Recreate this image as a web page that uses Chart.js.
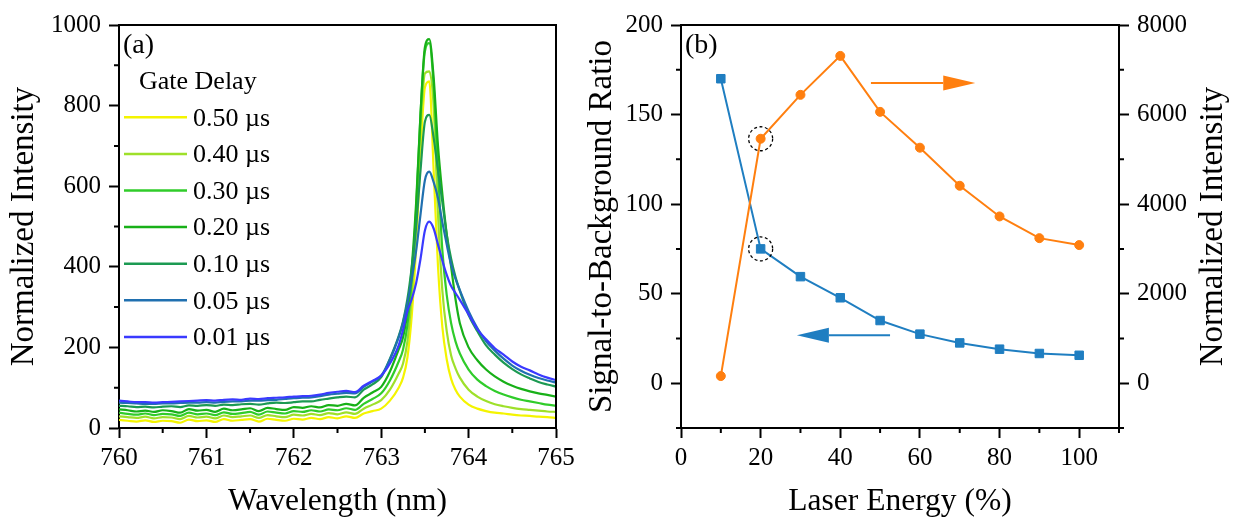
<!DOCTYPE html>
<html>
<head>
<meta charset="utf-8">
<title>Gate delay spectra and laser energy</title>
<script src="https://cdn.jsdelivr.net/npm/chart.js@4.4.1/dist/chart.umd.min.js"></script>
<style>
  html, body { margin: 0; padding: 0; background: #fff; }
  #wrap { position: relative; width: 1237px; height: 521px; }
  .panel { position: absolute; top: 0; }
  #panelA { left: 0; }
  #panelB { left: 575px; }
</style>
</head>
<body>
<div id="wrap">
  <div class="panel" id="panelA"><canvas id="chartA" width="575" height="521"></canvas></div>
  <div class="panel" id="panelB"><canvas id="chartB" width="662" height="521"></canvas></div>
</div>
<script>
// ---- (a) emission line vs gate delay ----
const wavelength = [
  760.0, 760.1, 760.2, 760.3, 760.4, 760.5, 760.6, 760.7, 760.8, 760.9,
  761.0, 761.1, 761.2, 761.3, 761.4, 761.5, 761.6, 761.7, 761.8, 761.9,
  762.0, 762.1, 762.2, 762.3, 762.4, 762.5, 762.6, 762.7, 762.8, 762.9,
  763.0, 763.1, 763.2, 763.25, 763.3, 763.35, 763.4, 763.45, 763.5, 763.55,
  763.6, 763.65, 763.7, 763.75, 763.8, 763.85, 763.9,
  764.0, 764.1, 764.2, 764.3, 764.4, 764.5, 764.6, 764.7, 764.8, 764.9, 765.0
];
const gateDelays = ['0.50 µs', '0.40 µs', '0.30 µs', '0.20 µs', '0.10 µs', '0.05 µs', '0.01 µs'];

const delay050 = [
  20, 18, 16, 19, 15, 18, 17, 13, 21, 17, 19, 15, 22, 18, 20, 22, 16, 23, 20, 18,
  23, 21, 25, 22, 27, 24, 29, 25, 36, 42,
  48, 68, 100, 125, 175, 280, 450, 680, 845, 860, 640, 400, 250, 170, 122, 95, 78,
  58, 48, 42, 38, 36, 33, 31, 30, 28, 27, 25
];
const delay040 = [
  29, 27, 25, 28, 24, 27, 26, 22, 30, 26, 28, 24, 31, 27, 29, 31, 25, 32, 29, 27,
  33, 31, 35, 32, 37, 34, 39, 35, 48, 58,
  69, 95, 135, 160, 215, 330, 500, 740, 880, 885, 800, 530, 340, 240, 180, 148, 125,
  95, 78, 67, 59, 54, 50, 47, 45, 43, 41, 40
];
const delay030 = [
  38, 35, 33, 36, 32, 35, 34, 30, 38, 34, 36, 32, 39, 35, 37, 40, 33, 41, 38, 36,
  42, 40, 44, 41, 46, 44, 49, 45, 60, 72,
  86, 118, 165, 195, 255, 370, 545, 780, 935, 955, 850, 640, 440, 330, 260, 215, 185,
  145, 120, 104, 92, 83, 76, 70, 66, 62, 58, 55
];
const delay020 = [
  46, 44, 41, 43, 40, 44, 42, 38, 47, 43, 45, 40, 48, 44, 46, 49, 42, 50, 47, 45,
  52, 50, 54, 51, 57, 55, 60, 56, 75, 88,
  102, 140, 195, 225, 290, 400, 560, 780, 945, 965, 870, 700, 580, 480, 400, 320, 260,
  200, 168, 145, 128, 115, 105, 97, 91, 86, 82, 78
];
const delay010 = [
  55, 54, 52, 53, 51, 53, 54, 52, 56, 55, 57, 55, 58, 57, 59, 60, 58, 61, 63, 62,
  64, 66, 66, 70, 73, 76, 78, 76, 95, 108,
  126, 172, 228, 265, 320, 400, 500, 640, 760, 777, 720, 640, 560, 480, 420, 375, 340,
  280, 240, 205, 182, 162, 146, 133, 123, 114, 108, 103
];
const delay005 = [
  63, 62, 61, 60, 60, 61, 61, 62, 63, 63, 64, 63, 65, 66, 66, 68, 68, 69, 70, 72,
  74, 75, 76, 79, 83, 85, 87, 86, 102, 115,
  130, 170, 225, 262, 310, 370, 440, 530, 615, 636, 610, 570, 510, 455, 405, 370, 342,
  290, 248, 215, 192, 172, 155, 142, 132, 124, 118, 113
];
const delay001 = [
  68, 66, 64, 64, 63, 64, 65, 66, 67, 68, 69, 68, 70, 71, 70, 73, 72, 74, 75, 76,
  78, 79, 80, 83, 87, 90, 92, 89, 105, 117,
  130, 160, 205, 243, 290, 320, 360, 420, 490, 512, 495, 455, 415, 380, 352, 335, 318,
  282, 245, 220, 198, 182, 165, 152, 143, 133, 125, 119
];
const wavelengthTicks = [760, 761, 762, 763, 764, 765];
const spectrumTicks = [0, 200, 400, 600, 800, 1000];

// ---- (b) laser energy scan ----
const laserEnergy = [10, 20, 30, 40, 50, 60, 70, 80, 90, 100];
const sbrRatio = [170, 75, 59.5, 47.7, 35, 27.4, 22.5, 19, 16.6, 15.6];
const lineIntensity = [160, 5460, 6440, 7310, 6060, 5260, 4410, 3725, 3240, 3085];
const energyTicks = [0, 20, 40, 60, 80, 100];
const sbrTicks = [0, 50, 100, 150, 200];
const intensityTicks = [0, 2000, 4000, 6000, 8000];

const spectra = [delay050, delay040, delay030, delay020, delay010, delay005, delay001];
const delayColors = ['#f4f400', '#9ee02a', '#30cc2a', '#18b018', '#1c9a52', '#2070b0', '#3a3aff'];
const sbrColor = '#1f7ec1';
const intensityColor = '#ff7f0f';

const FONT = "'Liberation Serif', 'Times New Roman', serif";
Chart.defaults.font.family = FONT;
Chart.defaults.color = '#000';

const tickFont = { size: 25 };
const xTitleFont = { size: 31.5 };
const yTitleFont = { size: 33 };

// short unlabeled ticks between the numbered ones
function drawMinorTicks(chart, minor) {
  const ctx = chart.ctx;
  ctx.beginPath();
  for (const id in minor) {
    const s = chart.scales[id];
    const { step, major } = minor[id];
    const n = Math.round((s.max - s.min) / step);
    for (let k = 0; k <= n; k++) {
      const v = s.min + k * step;
      const r = v / major;
      if (Math.abs(r - Math.round(r)) < 1e-6) continue;
      const p = s.getPixelForValue(v);
      if (s.isHorizontal()) {
        ctx.moveTo(p, s.top); ctx.lineTo(p, s.top + 5);
      } else if (s.position === 'left') {
        ctx.moveTo(s.right, p); ctx.lineTo(s.right - 5, p);
      } else {
        ctx.moveTo(s.left, p); ctx.lineTo(s.left + 5, p);
      }
    }
  }
  ctx.stroke();
}

const panelDecor = {
  id: 'panelDecor',
  afterDraw(chart, args, o) {
    const { ctx, chartArea: a } = chart;
    ctx.save();
    ctx.strokeStyle = '#000';
    ctx.lineWidth = 2;
    ctx.beginPath();
    ctx.moveTo(a.left - 1, a.top);
    ctx.lineTo(a.right + 1, a.top);
    if (o.rightEdge) {
      ctx.moveTo(a.right, a.top);
      ctx.lineTo(a.right, a.bottom + 1);
    }
    ctx.stroke();
    drawMinorTicks(chart, o.minor);

    ctx.fillStyle = '#000';
    ctx.textBaseline = 'middle';
    ctx.textAlign = 'left';
    ctx.font = `28px ${FONT}`;
    ctx.fillText(o.letter, a.left + 4, a.top + 21);
    ctx.restore();
  }
};

// legend inside the spectra panel
const delayLegend = {
  id: 'delayLegend',
  afterDraw(chart) {
    const { ctx, chartArea: a } = chart;
    ctx.save();
    ctx.fillStyle = '#000';
    ctx.textBaseline = 'middle';
    ctx.textAlign = 'left';
    ctx.font = `26px ${FONT}`;
    ctx.fillText('Gate Delay', a.left + 20, a.top + 57);
    chart.data.datasets.forEach((ds, i) => {
      const y = a.top + 92.3 + i * 36.6;
      ctx.strokeStyle = ds.borderColor;
      ctx.lineWidth = 2.5;
      ctx.beginPath();
      ctx.moveTo(a.left + 5, y);
      ctx.lineTo(a.left + 68, y);
      ctx.stroke();
      ctx.fillText(ds.label, a.left + 74, y + 1.5);
    });
    ctx.restore();
  }
};

function drawArrow(ctx, x0, x1, y, color) {
  const dir = Math.sign(x1 - x0);
  const head = 32, half = 7.5;
  ctx.strokeStyle = color;
  ctx.fillStyle = color;
  ctx.lineWidth = 2;
  ctx.beginPath();
  ctx.moveTo(x0, y);
  ctx.lineTo(x1 - dir * head, y);
  ctx.stroke();
  ctx.beginPath();
  ctx.moveTo(x1, y);
  ctx.lineTo(x1 - dir * head, y - half);
  ctx.lineTo(x1 - dir * head, y + half);
  ctx.closePath();
  ctx.fill();
}

// dashed rings on the 20 % points, axis arrows and the right-hand title
const energyNotes = {
  id: 'energyNotes',
  afterDatasetsDraw(chart) {
    const { ctx, chartArea: a, scales: { x, y, y2 } } = chart;
    ctx.save();
    ctx.strokeStyle = '#000';
    ctx.lineWidth = 1.3;
    ctx.setLineDash([3, 2.5]);
    const cx = x.getPixelForValue(laserEnergy[1]);
    [y.getPixelForValue(sbrRatio[1]), y2.getPixelForValue(lineIntensity[1])].forEach(cy => {
      ctx.beginPath();
      ctx.arc(cx, cy, 12, 0, Math.PI * 2);
      ctx.stroke();
    });
    ctx.setLineDash([]);
    drawArrow(ctx, x.getPixelForValue(47.7), x.getPixelForValue(73.9), y.getPixelForValue(167.6), intensityColor);
    drawArrow(ctx, x.getPixelForValue(52.5), x.getPixelForValue(29.1), y.getPixelForValue(26.8), sbrColor);

    ctx.fillStyle = '#000';
    ctx.font = `${yTitleFont.size}px ${FONT}`;
    ctx.textAlign = 'center';
    ctx.textBaseline = 'middle';
    ctx.translate(638, (a.top + a.bottom) / 2);
    ctx.rotate(-Math.PI / 2);
    ctx.fillText('Normalized Intensity', 0, 0);
    ctx.restore();
  }
};

const plainNumber = v => String(v);
const fixedTicks = values => s => { s.ticks = values.map(v => ({ value: v })); };
const tickGrid = { drawOnChartArea: false, tickLength: 10, tickWidth: 2, tickColor: '#000' };
const axisBorder = { color: '#000', width: 2 };

new Chart(document.getElementById('chartA'), {
  type: 'line',
  data: {
    datasets: spectra.map((s, i) => ({
      label: gateDelays[i],
      data: wavelength.map((w, k) => ({ x: w, y: s[k] })),
      borderColor: delayColors[i],
      borderWidth: 2.2,
      pointRadius: 0,
      cubicInterpolationMode: 'monotone',
      order: spectra.length - 1 - i
    }))
  },
  options: {
    responsive: false,
    animation: false,
    layout: { padding: { top: 25, right: 19, left: 0, bottom: 0 } },
    plugins: {
      legend: { display: false },
      tooltip: { enabled: false },
      panelDecor: {
        letter: '(a)', rightEdge: true,
        minor: { x: { step: 0.5, major: 1 }, y: { step: 100, major: 200 } }
      }
    },
    scales: {
      x: {
        type: 'linear', min: 760, max: 765,
        ticks: { font: tickFont, color: '#000', padding: 5, maxRotation: 0, callback: plainNumber },
        afterBuildTicks: fixedTicks(wavelengthTicks),
        grid: tickGrid, border: axisBorder,
        title: { display: true, text: 'Wavelength (nm)', font: xTitleFont, color: '#000', padding: { top: 0, bottom: 0 } },
        afterFit: s => { s.height = 93; s.paddingLeft = 0; s.paddingRight = 0; }
      },
      y: {
        min: 0, max: 1000,
        ticks: { font: tickFont, color: '#000', padding: 8, callback: plainNumber },
        afterBuildTicks: fixedTicks(spectrumTicks),
        grid: tickGrid, border: axisBorder,
        title: { display: true, text: 'Normalized Intensity', font: yTitleFont, color: '#000', padding: { top: 5, bottom: 0 } },
        afterFit: s => { s.width = 119; s.paddingTop = 0; s.paddingBottom = 0; }
      }
    }
  },
  plugins: [panelDecor, delayLegend]
});

new Chart(document.getElementById('chartB'), {
  type: 'line',
  data: {
    datasets: [
      {
        label: 'Normalized Intensity',
        data: laserEnergy.map((e, i) => ({ x: e, y: lineIntensity[i] })),
        yAxisID: 'y2',
        borderColor: intensityColor, backgroundColor: intensityColor,
        borderWidth: 2, pointStyle: 'circle', pointRadius: 4.5, pointBorderWidth: 1,
        tension: 0, order: 0
      },
      {
        label: 'Signal-to-Background Ratio',
        data: laserEnergy.map((e, i) => ({ x: e, y: sbrRatio[i] })),
        yAxisID: 'y',
        borderColor: sbrColor, backgroundColor: sbrColor,
        borderWidth: 2, pointStyle: 'rect', pointRadius: 6, pointBorderWidth: 1,
        tension: 0, order: 1
      }
    ]
  },
  options: {
    responsive: false,
    animation: false,
    layout: { padding: { top: 25, right: 0, left: 0, bottom: 0 } },
    plugins: {
      legend: { display: false },
      tooltip: { enabled: false },
      panelDecor: {
        letter: '(b)', rightEdge: false,
        minor: {
          x: { step: 10, major: 20 },
          y: { step: 25, major: 50 },
          y2: { step: 1000, major: 2000 }
        }
      }
    },
    scales: {
      x: {
        type: 'linear', min: 0, max: 110,
        ticks: { font: tickFont, color: '#000', padding: 5, maxRotation: 0, callback: plainNumber },
        afterBuildTicks: fixedTicks(energyTicks),
        grid: tickGrid, border: axisBorder,
        title: { display: true, text: 'Laser Energy (%)', font: xTitleFont, color: '#000', padding: { top: 0, bottom: 0 } },
        afterFit: s => { s.height = 93; s.paddingLeft = 0; s.paddingRight = 0; }
      },
      y: {
        position: 'left', min: -25, max: 200,
        ticks: { font: tickFont, color: '#000', padding: 8, callback: plainNumber },
        afterBuildTicks: fixedTicks(sbrTicks),
        grid: tickGrid, border: axisBorder,
        title: { display: true, text: 'Signal-to-Background Ratio', font: yTitleFont, color: '#000', padding: { top: 8, bottom: 0 } },
        afterFit: s => { s.width = 106; s.paddingTop = 0; s.paddingBottom = 0; }
      },
      y2: {
        position: 'right', min: -1000, max: 8000,
        ticks: { font: tickFont, color: '#000', padding: 8, callback: plainNumber },
        afterBuildTicks: fixedTicks(intensityTicks),
        grid: tickGrid, border: axisBorder,
        afterFit: s => { s.width = 118; s.paddingTop = 0; s.paddingBottom = 0; }
      }
    }
  },
  plugins: [panelDecor, energyNotes]
});
</script>
</body>
</html>
